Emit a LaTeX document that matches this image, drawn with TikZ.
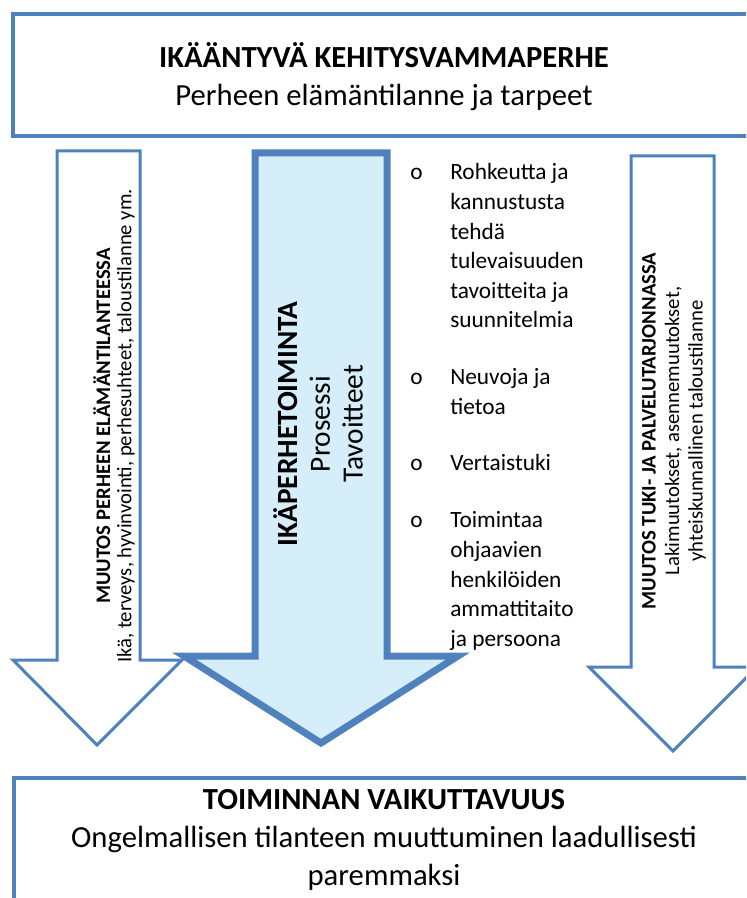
\documentclass[tikz,border=0pt]{standalone}
\usepackage{fontspec}
\setmainfont{Carlito}
\definecolor{frameblue}{RGB}{79,129,189}
\definecolor{paleblue}{RGB}{214,238,250}

\begin{document}
\begin{tikzpicture}[x=0.75pt, y=-0.75pt]
      \tikzstyle{frame} = [draw=frameblue, line width=3pt]
      \tikzstyle{sidearrow} = [draw=frameblue, line width=2.25pt, fill=white, line join=miter]
      \tikzstyle{mainarrow} = [draw=frameblue, line width=5.25pt, fill=paleblue, line join=miter]
      \tikzstyle{headtext} = [align=center, inner sep=0pt, font=\fontsize{23}{28.5}\selectfont]
      \tikzstyle{sidetext} = [align=center, inner sep=0pt, rotate=90, font=\fontsize{15.5}{16}\selectfont]
      \tikzstyle{listtext} = [anchor=north west, align=left, inner sep=0pt, font=\fontsize{17.5}{22.2}\selectfont]

      \useasboundingbox (0,0) rectangle (746,898);
      \clip (0,0) rectangle (746,898);

      % top and bottom boxes
      \draw [frame] (13,14) rectangle (770,136);
      \draw [frame] (14,778) rectangle (770,930);
      \node (family) [headtext] at (384,77) {\textbf{IKÄÄNTYVÄ KEHITYSVAMMAPERHE}\\Perheen elämäntilanne ja tarpeet};
      \node (impact) [headtext] at (384,840) {\textbf{TOIMINNAN VAIKUTTAVUUS}\\Ongelmallisen tilanteen muuttuminen laadullisesti\\paremmaksi};

      % side arrows
      \draw [sidearrow] (57,151) -- (140,151) -- (140,660) -- (182,660) -- (97,745) -- (13,660) -- (57,660) -- cycle;
      \draw [sidearrow] (631,156) -- (714,156) -- (714,667) -- (757,667) -- (673,751) -- (589,667) -- (631,667) -- cycle;
      % main arrow
      \draw [mainarrow] (255,153) -- (387,153) -- (387,656) -- (458,656) -- (321,743) -- (184,656) -- (255,656) -- cycle;

      \node (life) [sidetext] at (114,426) {\textbf{MUUTOS PERHEEN ELÄMÄNTILANTEESSA}\\Ikä, terveys, hyvinvointi, perhesuhteet, taloustilanne ym.};
      \node (service) [sidetext, font=\fontsize{15.5}{17.6}\selectfont] at (674,431) {\textbf{MUUTOS TUKI- JA PALVELUTARJONNASSA}\\Lakimuutokset, asennemuutokset,\\yhteiskunnallinen taloustilanne};
      \node (ikape) [sidetext, font=\fontsize{22}{24.5}\selectfont] at (318,424) {\textbf{IKÄPERHETOIMINTA}\\Prosessi\\Tavoitteet};

      % bullet list
      \foreach \n/\yy/\txt in {a/159/{Rohkeutta ja\\kannustusta\\tehdä\\tulevaisuuden\\tavoitteita ja\\suunnitelmia},
                               b/364/{Neuvoja ja\\tietoa},
                               c/450/{Vertaistuki},
                               d/507/{Toimintaa\\ohjaavien\\henkilöiden\\ammattitaito\\ja persoona}}
      {
        \node (bullet-\n) [listtext] at (410,\yy) {\strut o};
        \node (item-\n) [listtext] at (450,\yy) {\strut\txt};
      }
\end{tikzpicture}
\end{document}
